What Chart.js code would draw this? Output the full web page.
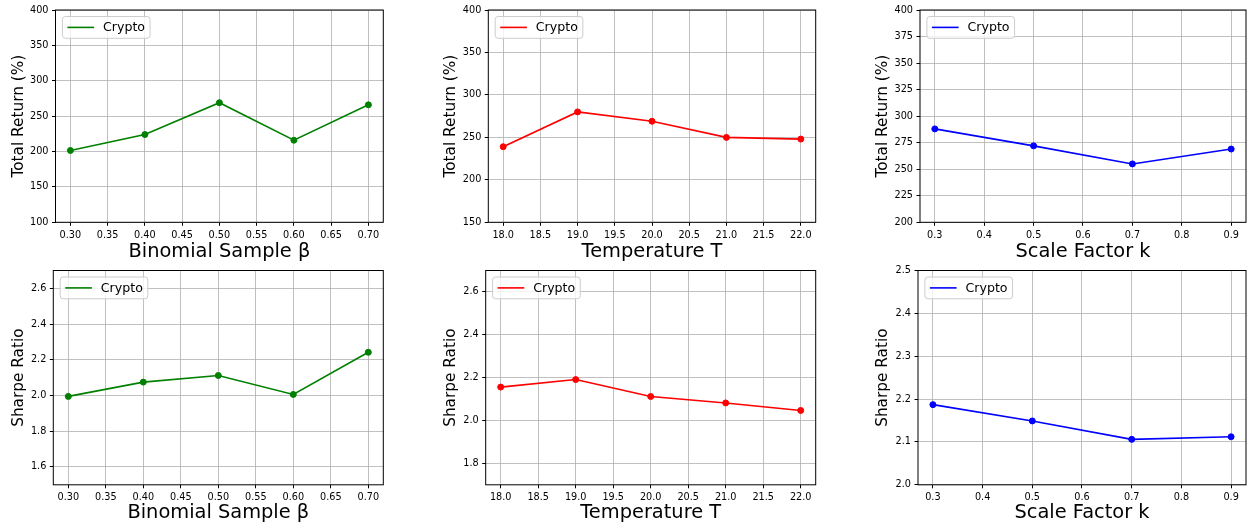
<!DOCTYPE html>
<html><head><meta charset="utf-8">
<script src="https://cdn.jsdelivr.net/npm/chart.js@4.4.1/dist/chart.umd.min.js"></script>
<style>
html,body{margin:0;padding:0;background:#fff;}
body{width:1251px;height:531px;position:relative;overflow:hidden;}
.cell{position:absolute;}
</style></head><body>
<div id="p0" class="cell"><canvas></canvas></div>
<div id="p1" class="cell"><canvas></canvas></div>
<div id="p2" class="cell"><canvas></canvas></div>
<div id="p3" class="cell"><canvas></canvas></div>
<div id="p4" class="cell"><canvas></canvas></div>
<div id="p5" class="cell"><canvas></canvas></div>
<script>
// ---------- data ----------
const seriesLabel = 'Crypto';
const betaX  = [0.30, 0.40, 0.50, 0.60, 0.70];
const tempX  = [18.0, 19.0, 20.0, 21.0, 22.0];
const scaleX = [0.3, 0.5, 0.7, 0.9];

const betaReturn  = [201.5, 224, 269, 216, 266];
const tempReturn  = [239, 280, 269, 250, 248];
const scaleReturn = [288, 272, 255, 269];

const betaSharpe  = [1.995, 2.075, 2.112, 2.006, 2.242];
const tempSharpe  = [2.156, 2.191, 2.112, 2.082, 2.047];
const scaleSharpe = [2.187, 2.149, 2.106, 2.112];

const betaTicks = [0.30, 0.35, 0.40, 0.45, 0.50, 0.55, 0.60, 0.65, 0.70];
const betaTickLabels = ['0.30','0.35','0.40','0.45','0.50','0.55','0.60','0.65','0.70'];
const tempTicks = [18.0, 18.5, 19.0, 19.5, 20.0, 20.5, 21.0, 21.5, 22.0];
const tempTickLabels = ['18.0','18.5','19.0','19.5','20.0','20.5','21.0','21.5','22.0'];
const scaleTicks = [0.3, 0.4, 0.5, 0.6, 0.7, 0.8, 0.9];
const scaleTickLabels = ['0.3','0.4','0.5','0.6','0.7','0.8','0.9'];

const betaReturnTicks = [100, 150, 200, 250, 300, 350, 400];
const betaReturnTickLabels = ['100','150','200','250','300','350','400'];
const tempReturnTicks = [150, 200, 250, 300, 350, 400];
const tempReturnTickLabels = ['150','200','250','300','350','400'];
const scaleReturnTicks = [200, 225, 250, 275, 300, 325, 350, 375, 400];
const scaleReturnTickLabels = ['200','225','250','275','300','325','350','375','400'];

const betaSharpeTicks = [1.6, 1.8, 2.0, 2.2, 2.4, 2.6];
const betaSharpeTickLabels = ['1.6','1.8','2.0','2.2','2.4','2.6'];
const tempSharpeTicks = [1.8, 2.0, 2.2, 2.4, 2.6];
const tempSharpeTickLabels = ['1.8','2.0','2.2','2.4','2.6'];
const scaleSharpeTicks = [2.0, 2.1, 2.2, 2.3, 2.4, 2.5];
const scaleSharpeTickLabels = ['2.0','2.1','2.2','2.3','2.4','2.5'];

const xTitles = ['Binomial Sample β', 'Temperature T', 'Scale Factor k'];
const yTitles = ['Total Return (%)', 'Sharpe Ratio'];

// ---------- panels ----------
const FONT = "'DejaVu Sans', sans-serif";
const panels = [
  {xs: betaX,  ys: betaReturn,  color:'#008000', xt: betaTicks,  xl: betaTickLabels,  xr:[0.28,0.72], yt: betaReturnTicks,  yl: betaReturnTickLabels,  yr:[100,400], xTitle: xTitles[0], yTitle: yTitles[0],
   cell:[0,0,420,265],     g:{l:55.5, r:383.3, t:10, b:222.3, yTX:18.7, xTY:251.5}},
  {xs: tempX,  ys: tempReturn,  color:'#ff0000', xt: tempTicks,  xl: tempTickLabels,  xr:[17.8,22.2], yt: tempReturnTicks,  yl: tempReturnTickLabels,  yr:[150,400], xTitle: xTitles[1], yTitle: yTitles[0],
   cell:[420,0,840,265],   g:{l:488.3, r:815.7, t:10, b:222.3, yTX:451.3, xTY:251.5}},
  {xs: scaleX, ys: scaleReturn, color:'#0000ff', xt: scaleTicks, xl: scaleTickLabels, xr:[0.27,0.93], yt: scaleReturnTicks, yl: scaleReturnTickLabels, yr:[200,400], xTitle: xTitles[2], yTitle: yTitles[0],
   cell:[840,0,1251,265],  g:{l:920, r:1248.5, t:10, b:222.3, yTX:883.2, xTY:251.5}},
  {xs: betaX,  ys: betaSharpe,  color:'#008000', xt: betaTicks,  xl: betaTickLabels,  xr:[0.28,0.72], yt: betaSharpeTicks,  yl: betaSharpeTickLabels,  yr:[1.5,2.7], xTitle: xTitles[0], yTitle: yTitles[1],
   cell:[0,265,420,531],   g:{l:53.3, r:383.3, t:270.5, b:484.8, yTX:18.7, xTY:513.3}},
  {xs: tempX,  ys: tempSharpe,  color:'#ff0000', xt: tempTicks,  xl: tempTickLabels,  xr:[17.8,22.2], yt: tempSharpeTicks,  yl: tempSharpeTickLabels,  yr:[1.7,2.7], xTitle: xTitles[1], yTitle: yTitles[1],
   cell:[420,265,840,531], g:{l:485.7, r:815.7, t:270.5, b:484.8, yTX:451.3, xTY:513.3}},
  {xs: scaleX, ys: scaleSharpe, color:'#0000ff', xt: scaleTicks, xl: scaleTickLabels, xr:[0.27,0.93], yt: scaleSharpeTicks, yl: scaleSharpeTickLabels, yr:[2.0,2.5], xTitle: xTitles[2], yTitle: yTitles[1],
   cell:[840,265,1251,531],g:{l:918, r:1248.5, t:270.5, b:484.8, yTX:882.7, xTY:513.3}},
];

const TICK_SIZE = 9.7, XT_SIZE = 19.4, YT_SIZE = 15.3, LEG_SIZE = 12.6;

const framePlugin = {
  id: 'frame',
  afterDatasetsDraw(chart) {
    const a = chart.chartArea, ctx = chart.ctx;
    ctx.save();
    ctx.strokeStyle = '#000';
    ctx.lineWidth = 1;
    ctx.strokeRect(a.left, a.top, a.right - a.left, a.bottom - a.top);
    ctx.restore();
  }
};

const innerLegend = {
  id: 'innerLegend',
  afterDraw(chart) {
    const a = chart.chartArea, ctx = chart.ctx;
    const ds = chart.data.datasets[0];
    ctx.save();
    ctx.font = LEG_SIZE + 'px ' + FONT;
    const tw = ctx.measureText(ds.label).width;
    const x = a.left + 6.9, y = a.top + 6.5, h = 21.8, w = 40.6 + tw + 5;
    const r = 3;
    ctx.beginPath();
    ctx.moveTo(x + r, y);
    ctx.lineTo(x + w - r, y); ctx.arcTo(x + w, y, x + w, y + r, r);
    ctx.lineTo(x + w, y + h - r); ctx.arcTo(x + w, y + h, x + w - r, y + h, r);
    ctx.lineTo(x + r, y + h); ctx.arcTo(x, y + h, x, y + h - r, r);
    ctx.lineTo(x, y + r); ctx.arcTo(x, y, x + r, y, r);
    ctx.closePath();
    ctx.fillStyle = 'rgba(255,255,255,0.8)';
    ctx.fill();
    ctx.strokeStyle = '#cccccc';
    ctx.lineWidth = 1;
    ctx.stroke();
    ctx.beginPath();
    ctx.moveTo(x + 5, y + h / 2);
    ctx.lineTo(x + 31.7, y + h / 2);
    ctx.strokeStyle = ds.borderColor;
    ctx.lineWidth = 1.6;
    ctx.stroke();
    ctx.fillStyle = '#000';
    ctx.textBaseline = 'middle';
    ctx.textAlign = 'left';
    ctx.fillText(ds.label, x + 40.6, y + h / 2 + 0.5);
    ctx.restore();
  }
};

function zeroPad(ax) { ax.paddingLeft = 0; ax.paddingRight = 0; ax.paddingTop = 0; ax.paddingBottom = 0; }

panels.forEach((p, i) => {
  const [cl, ct, cr, cb] = p.cell;
  const g = p.g;
  const div = document.getElementById('p' + i);
  div.style.left = cl + 'px'; div.style.top = ct + 'px';
  div.style.width = (cr - cl) + 'px'; div.style.height = (cb - ct) + 'px';
  const canvas = div.querySelector('canvas');
  const gridCommon = {color: '#b0b0b0', lineWidth: 0.8, drawTicks: true, tickLength: 3.5, tickColor: '#000', tickWidth: 1};
  new Chart(canvas, {
    type: 'line',
    data: {
      datasets: [{
        label: seriesLabel,
        data: p.xs.map((x, k) => ({x: x, y: p.ys[k]})),
        borderColor: p.color,
        backgroundColor: p.color,
        pointBackgroundColor: p.color,
        pointBorderColor: p.color,
        borderWidth: 1.6,
        pointRadius: 3,
        pointBorderWidth: 1,
        tension: 0,
        fill: false
      }]
    },
    options: {
      responsive: true,
      maintainAspectRatio: false,
      animation: false,
      events: [],
      layout: {padding: {left: 0, top: g.t - ct, right: cr - g.r, bottom: 0}},
      plugins: {legend: {display: false}, tooltip: {enabled: false}, title: {display: false}},
      scales: {
        x: {
          type: 'linear', min: p.xr[0], max: p.xr[1],
          afterBuildTicks: ax => { ax.ticks = p.xt.map(v => ({value: v})); },
          afterFit: ax => { ax.height = cb - g.b; zeroPad(ax); },
          ticks: {autoSkip: false, maxRotation: 0, minRotation: 0, padding: 3.5, color: '#000',
                  font: {size: TICK_SIZE, family: FONT}, callback: (v, k) => p.xl[k]},
          grid: gridCommon,
          border: {display: false},
          title: {display: true, text: p.xTitle, color: '#000',
                  font: {size: XT_SIZE, family: FONT, lineHeight: 1.2},
                  padding: {top: 0, bottom: cb - g.xTY - XT_SIZE * 1.2 / 2}}
        },
        y: {
          type: 'linear', min: p.yr[0], max: p.yr[1],
          afterBuildTicks: ax => { ax.ticks = p.yt.map(v => ({value: v})); },
          afterFit: ax => { ax.width = g.l - cl; zeroPad(ax); },
          ticks: {autoSkip: false, padding: 3.5, color: '#000',
                  font: {size: TICK_SIZE, family: FONT}, callback: (v, k) => p.yl[k]},
          grid: gridCommon,
          border: {display: false},
          title: {display: true, text: p.yTitle, color: '#000',
                  font: {size: YT_SIZE, family: FONT, lineHeight: 1.2},
                  padding: {top: g.yTX - cl - YT_SIZE * 1.2 / 2, bottom: 0}}
        }
      }
    },
    plugins: [framePlugin, innerLegend]
  });
});
</script>
</body></html>
